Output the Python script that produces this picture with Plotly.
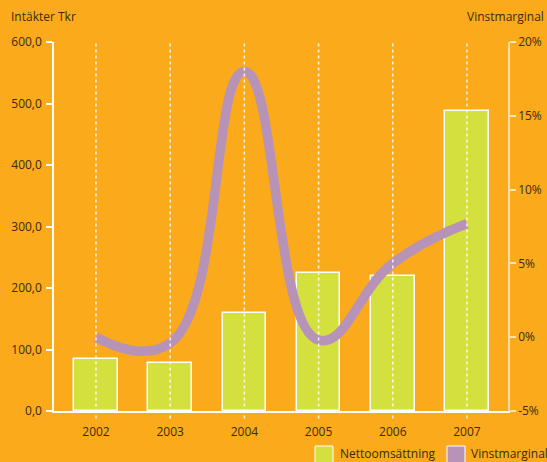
import plotly.graph_objects as go

years = [2002, 2003, 2004, 2005, 2006, 2007]
year_labels = ["2002", "2003", "2004", "2005", "2006", "2007"]
nettoomsattning = [85, 78, 160, 224, 220, 488]
vinstmarginal = [0.0, -0.4, 18.0, -0.2, 5.0, 7.7]
left_ticks = [0, 100, 200, 300, 400, 500, 600]
left_labels = ["0,0", "100,0", "200,0", "300,0", "400,0", "500,0", "600,0"]
right_ticks = [-5, 0, 5, 10, 15, 20]
right_labels = ["-5%", "0%", "5%", "10%", "15%", "20%"]

BG = "#FBAA1C"
BAR = "#D4E03E"
LINE = "#B893B8"
TXT = "#3a2a10"
FONT = "Open Sans"
FS = 12

fig = go.Figure()
fig.add_trace(go.Bar(x=years, y=nettoomsattning, width=0.59, name="Nettoomsättning",
                     marker=dict(color=BAR, line=dict(color="white", width=1.5)),
                     showlegend=False))
fig.add_trace(go.Scatter(x=years, y=vinstmarginal, yaxis="y2", mode="lines",
                         line=dict(color=LINE, width=9.5, shape="spline", smoothing=1.3),
                         name="Vinstmarginal", showlegend=False))

shapes = []
for yr in years:
    shapes.append(dict(type="line", xref="x", yref="paper", x0=yr, x1=yr, y0=-0.02, y1=1,
                       line=dict(color="rgba(255,255,255,0.85)", width=1.5, dash="dot"), layer="above"))
# legend swatches
shapes.append(dict(type="rect", xref="paper", yref="paper", x0=(315-54)/454, x1=(333-54)/454,
                   y0=(411-463)/369, y1=(411-446)/369, fillcolor=BAR, line=dict(color="white", width=1)))
shapes.append(dict(type="rect", xref="paper", yref="paper", x0=(447-54)/454, x1=(465-54)/454,
                   y0=(411-463)/369, y1=(411-446)/369, fillcolor=LINE, line=dict(color="white", width=1)))

annotations = [
    dict(text="Intäkter Tkr", xref="paper", yref="paper", x=(9-54)/454, y=(411-17)/369,
         xanchor="left", yanchor="middle", showarrow=False, font=dict(size=FS, color=TXT, family=FONT)),
    dict(text="Vinstmarginal", xref="paper", yref="paper", x=(546-54)/454, y=(411-17)/369,
         xanchor="right", yanchor="middle", showarrow=False, font=dict(size=FS, color=TXT, family=FONT)),
    dict(text="Nettoomsättning", xref="paper", yref="paper", x=(338-54)/454, y=(411-453)/369,
         xanchor="left", yanchor="middle", showarrow=False, font=dict(size=FS, color=TXT, family=FONT)),
    dict(text="Vinstmarginal", xref="paper", yref="paper", x=(469-54)/454, y=(411-453)/369,
         xanchor="left", yanchor="middle", showarrow=False, font=dict(size=FS, color=TXT, family=FONT)),
]

fig.update_layout(
    width=547, height=462,
    margin=dict(l=54, r=39, t=42, b=51, autoexpand=False),
    paper_bgcolor=BG, plot_bgcolor=BG,
    font=dict(family=FONT, size=FS, color=TXT),
    showlegend=False,
    bargap=0,
    xaxis=dict(range=[2001.434, 2007.553], tickmode="array", tickvals=years, ticktext=year_labels,
               showgrid=False, zeroline=False, showline=True, linecolor="white", linewidth=1.5,
               ticks="", ticklabelstandoff=9, fixedrange=True, automargin=False),
    yaxis=dict(range=[0, 600], tickmode="array", tickvals=left_ticks, ticktext=left_labels,
               showgrid=False, zeroline=False, showline=True, linecolor="white", linewidth=1.5,
               ticks="outside", ticklen=6, tickcolor="white", tickwidth=1.5, ticklabelstandoff=2,
               automargin=False),
    yaxis2=dict(range=[-5, 20], overlaying="y", side="right", tickmode="array", tickvals=right_ticks,
                ticktext=right_labels, showgrid=False, zeroline=False, showline=True,
                linecolor="rgba(255,255,255,0.6)", linewidth=1.5, automargin=False,
                ticks="outside", ticklen=6, tickcolor="rgba(255,255,255,0.7)", tickwidth=1.5),
    shapes=shapes,
    annotations=annotations,
)

fig.write_html("out.html", config={"displayModeBar": False},
               post_script="document.body.style.margin='0';document.body.style.overflow='hidden';")
